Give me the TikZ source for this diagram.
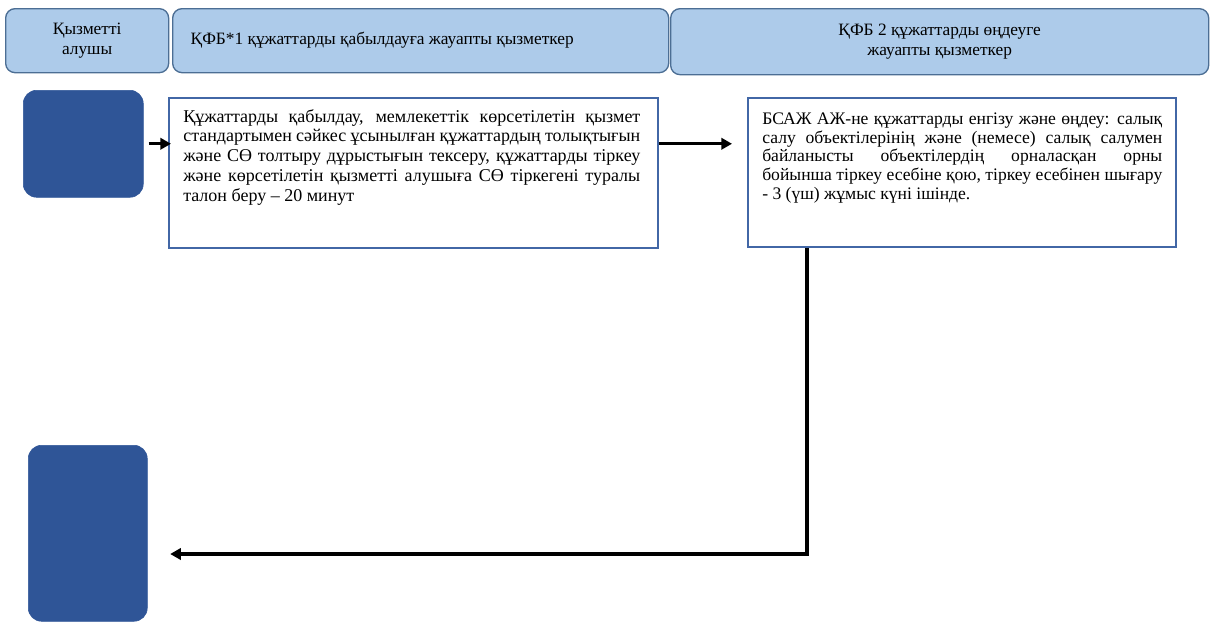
\documentclass[tikz,border=0pt]{standalone}
\usepackage{fontspec}
\setmainfont{Liberation Serif}
\usetikzlibrary{positioning,arrows.meta}

\definecolor{headfill}{HTML}{ADCBEA}
\definecolor{headline}{HTML}{4C6E94}
\definecolor{termfill}{HTML}{2F5597}
\definecolor{boxline}{HTML}{4267A6}

\tikzset{
  head/.style={draw=headline,fill=headfill,line width=1pt,rounded corners=7pt,
    anchor=north west,inner sep=0pt,align=center,font=\fontsize{13}{15.5}\selectfont},
  term/.style={draw=termfill,fill=termfill,rounded corners=10pt,anchor=north west,inner sep=0pt},
  stepbox/.style={draw=boxline,line width=1.4pt,anchor=north west,inner sep=0pt},
  steptext/.style={anchor=north west,inner sep=0pt,align=justify},
  flow/.style={line width=2.3pt,-{Triangle[length=8pt,width=8.5pt]}},
}

\begin{document}
\begin{tikzpicture}[x=0.75pt,y=-0.75pt]
\useasboundingbox (0,0) rectangle (1216,622);

% lanes
\node[head,minimum width=122.25pt,minimum height=48pt] (lane1) at (5,8) {Қызметті\\алушы};
\node[head,minimum width=372pt,minimum height=48pt] (lane2) at (172,8) {};
\node[anchor=west,font=\fontsize{13}{15.5}\selectfont] (lane2txt) at (186,40) {ҚФБ*1 құжаттарды қабылдауға жауапты қызметкер};
\node[head,minimum width=403.5pt,minimum height=49.5pt] (lane3) at (670,8) {ҚФБ 2 құжаттарды өңдеуге\\жауапты қызметкер};

% start / end
\node[term,minimum width=90pt,minimum height=80.25pt] (start) at (23,90) {};
\node[term,minimum width=89.25pt,minimum height=132pt] (finish) at (28,445) {};

% steps
\node[stepbox,minimum width=366.75pt,minimum height=112.5pt] (stepA) at (168,97) {};
\node[steptext,text width=342.75pt,font=\fontsize{13.5}{14.8}\selectfont] (textA)
  at ([xshift=11.25pt,yshift=-9pt]stepA.north west)
  {Құжаттарды қабылдау, мемлекеттік көрсетілетін қызмет\linebreak
   стандартымен сәйкес ұсынылған құжаттардың толықтығын\linebreak
   және СӨ толтыру дұрыстығын тексеру, құжаттарды тіркеу\linebreak
   және көрсетілетін қызметті алушыға СӨ тіркегені туралы\linebreak
   талон беру – 20 минут};

\node[stepbox,minimum width=321pt,minimum height=111.75pt] (stepB) at (747,97) {};
\node[steptext,text width=300pt,font=\fontsize{13.2}{13.9}\selectfont] (textB)
  at ([xshift=11.25pt,yshift=-12pt]stepB.north west)
  {БСАЖ АЖ-не құжаттарды енгізу және өңдеу: салық\linebreak
   салу объектілерінің және (немесе) салық салумен\linebreak
   байланысты объектілердің орналасқан орны\linebreak
   бойынша тіркеу есебіне қою, тіркеу есебінен шығару\linebreak
   - 3 (үш) жұмыс күні ішінде.};

% arrows
\coordinate (turn) at (807,554);
\draw[flow,shorten <=3.75pt,shorten >=-2.25pt] (start.east) -- (start.east -| stepA.west);
\draw[flow,shorten >=11.25pt] (stepA.east |- start.east) -- (stepB.west |- start.east);
\draw[flow,shorten >=17pt] (stepB.south -| turn) -- (turn) -- (turn -| finish.east);
\end{tikzpicture}
\end{document}
